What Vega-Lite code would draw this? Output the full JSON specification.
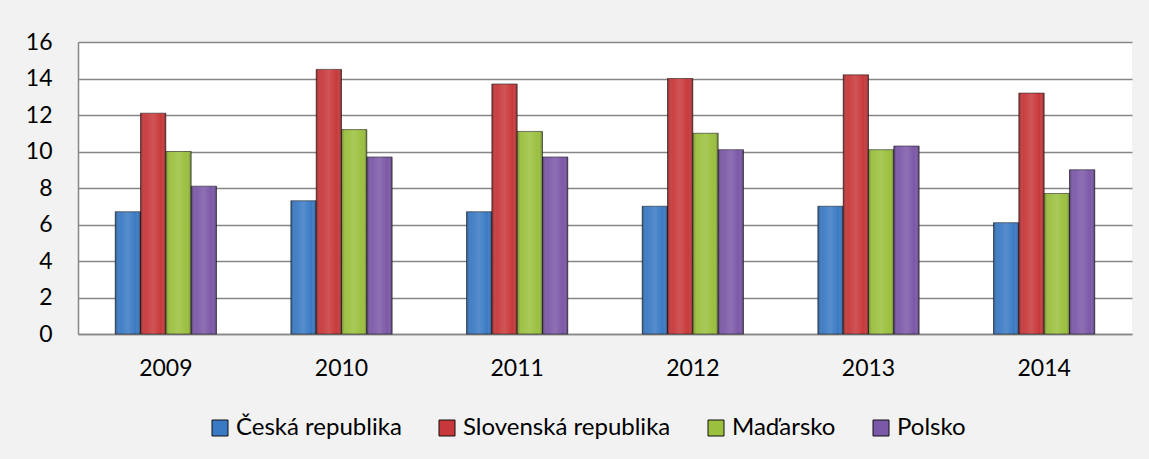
{
  "$schema": "https://vega.github.io/schema/vega-lite/v6.json",
  "width": 1054,
  "height": 292,
  "autosize": {"type": "none"},
  "padding": {"left": 78, "top": 42, "right": 17, "bottom": 125},
  "background": "#f2f2f2",
  "config": {
    "view": {"stroke": null, "fill": "white"},
    "font": "Lato",
    "axis": {"labelColor": "black", "labelFont": "Lato", "labelFontSize": 23, "ticks": false, "domainColor": "#868686", "domainWidth": 1.5},
    "legend": {"labelColor": "black", "labelFont": "Lato", "labelFontSize": 24, "labelLimit": 500}
  },
  "data": {
    "values": [
      {"year": "2009", "country": "Česká republika", "value": 6.7},
      {"year": "2009", "country": "Slovenská republika", "value": 12.1},
      {"year": "2009", "country": "Maďarsko", "value": 10.0},
      {"year": "2009", "country": "Polsko", "value": 8.1},
      {"year": "2010", "country": "Česká republika", "value": 7.3},
      {"year": "2010", "country": "Slovenská republika", "value": 14.5},
      {"year": "2010", "country": "Maďarsko", "value": 11.2},
      {"year": "2010", "country": "Polsko", "value": 9.7},
      {"year": "2011", "country": "Česká republika", "value": 6.7},
      {"year": "2011", "country": "Slovenská republika", "value": 13.7},
      {"year": "2011", "country": "Maďarsko", "value": 11.1},
      {"year": "2011", "country": "Polsko", "value": 9.7},
      {"year": "2012", "country": "Česká republika", "value": 7.0},
      {"year": "2012", "country": "Slovenská republika", "value": 14.0},
      {"year": "2012", "country": "Maďarsko", "value": 11.0},
      {"year": "2012", "country": "Polsko", "value": 10.1},
      {"year": "2013", "country": "Česká republika", "value": 7.0},
      {"year": "2013", "country": "Slovenská republika", "value": 14.2},
      {"year": "2013", "country": "Maďarsko", "value": 10.1},
      {"year": "2013", "country": "Polsko", "value": 10.3},
      {"year": "2014", "country": "Česká republika", "value": 6.1},
      {"year": "2014", "country": "Slovenská republika", "value": 13.2},
      {"year": "2014", "country": "Maďarsko", "value": 7.7},
      {"year": "2014", "country": "Polsko", "value": 9.0}
    ]
  },
  "encoding": {
    "x": {
      "field": "year",
      "type": "nominal",
      "title": null,
      "scale": {"paddingInner": 0.4235, "paddingOuter": 0.2118},
      "axis": {"labelAngle": 0, "labelPadding": 23, "grid": false}
    },
    "xOffset": {
      "field": "country",
      "type": "nominal",
      "sort": ["Česká republika", "Slovenská republika", "Maďarsko", "Polsko"],
      "scale": {"paddingInner": 0, "paddingOuter": 0}
    },
    "y": {
      "field": "value",
      "type": "quantitative",
      "title": null,
      "scale": {"domain": [0, 16], "nice": false},
      "axis": {"values": [0, 2, 4, 6, 8, 10, 12, 14, 16], "labelPadding": 26, "grid": true, "gridColor": "#868686", "gridWidth": 1.5}
    }
  },
  "layer": [
    {
      "mark": {"type": "bar", "stroke": "#111111", "strokeOpacity": 0.55, "strokeWidth": 1},
      "encoding": {
        "color": {
          "field": "country",
          "type": "nominal",
          "sort": ["Česká republika", "Slovenská republika", "Maďarsko", "Polsko"],
          "scale": {
            "domain": ["Česká republika", "Slovenská republika", "Maďarsko", "Polsko"],
            "range": ["#3a7ac4", "#c8383a", "#9bc03e", "#7c58a8"]
          },
          "legend": {
            "title": null,
            "orient": "none",
            "direction": "horizontal",
            "legendX": 130,
            "legendY": 374,
            "symbolType": "square",
            "symbolSize": 256,
            "labelOffset": 4,
            "columnPadding": 33,
            "symbolStrokeWidth": 1
          }
        }
      }
    },
    {
      "mark": {
        "type": "bar",
        "fill": {
          "gradient": "linear",
          "x1": 0, "x2": 1, "y1": 0, "y2": 0,
          "stops": [
            {"offset": 0, "color": "rgba(0,0,0,0.32)"},
            {"offset": 0.18, "color": "rgba(255,255,255,0.04)"},
            {"offset": 0.5, "color": "rgba(255,255,255,0.14)"},
            {"offset": 0.82, "color": "rgba(255,255,255,0.0)"},
            {"offset": 1, "color": "rgba(0,0,0,0.36)"}
          ]
        }
      },
      "encoding": {}
    }
  ]
}
